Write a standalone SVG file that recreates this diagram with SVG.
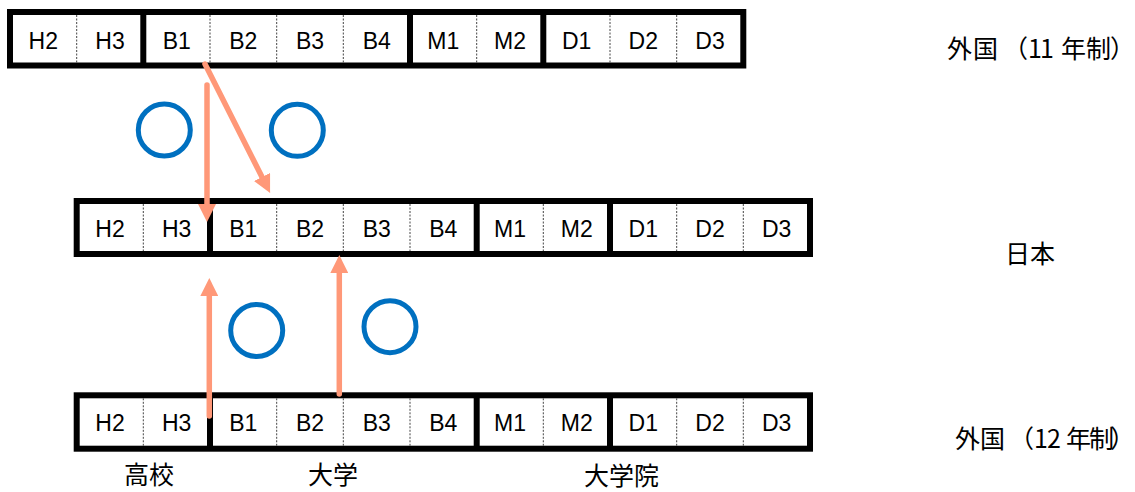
<svg xmlns="http://www.w3.org/2000/svg" width="1135" height="492" viewBox="0 0 1135 492">
<style>
.frame{fill:#fff;stroke:#000;stroke-width:6}
.thick{stroke:#000;stroke-width:6}
.dash{stroke:#444;stroke-width:1;stroke-dasharray:2 1.5}
.cell{font-family:"Liberation Sans",Arial,sans-serif;font-size:23px;fill:#000;text-anchor:middle}
.lbl{font-family:"Noto Sans CJK JP","Noto Sans",sans-serif;font-size:25px;fill:#000;text-spacing-trim:space-all}
.ok{fill:none;stroke:#0070C0;stroke-width:5}
.arr{stroke:#FF9878;stroke-width:5.5;stroke-linecap:round;fill:none;marker-end:url(#ah)}
</style>
<defs>
<marker id="ah" markerUnits="userSpaceOnUse" viewBox="0 0 18 18" markerWidth="18" markerHeight="18" refX="0" refY="9" orient="auto">
<path d="M0,0 L18,9 L0,18 Z" fill="#FF9878"/>
</marker>
</defs>

<g id="row-foreign11">
<rect class="frame" x="10" y="12" width="733.3" height="53.5"/>
<line class="thick" x1="143.3" y1="12" x2="143.3" y2="65.5"/>
<line class="thick" x1="410" y1="12" x2="410" y2="65.5"/>
<line class="thick" x1="543.3" y1="12" x2="543.3" y2="65.5"/>
<line class="dash" x1="76.7" y1="15" x2="76.7" y2="62.5"/>
<line class="dash" x1="210" y1="15" x2="210" y2="62.5"/>
<line class="dash" x1="276.7" y1="15" x2="276.7" y2="62.5"/>
<line class="dash" x1="343.3" y1="15" x2="343.3" y2="62.5"/>
<line class="dash" x1="476.7" y1="15" x2="476.7" y2="62.5"/>
<line class="dash" x1="610" y1="15" x2="610" y2="62.5"/>
<line class="dash" x1="676.7" y1="15" x2="676.7" y2="62.5"/>
<text class="cell" x="43.3" y="48.5">H2</text>
<text class="cell" x="110" y="48.5">H3</text>
<text class="cell" x="176.7" y="48.5">B1</text>
<text class="cell" x="243.3" y="48.5">B2</text>
<text class="cell" x="310" y="48.5">B3</text>
<text class="cell" x="376.7" y="48.5">B4</text>
<text class="cell" x="443.3" y="48.5">M1</text>
<text class="cell" x="510" y="48.5">M2</text>
<text class="cell" x="576.7" y="48.5">D1</text>
<text class="cell" x="643.3" y="48.5">D2</text>
<text class="cell" x="710" y="48.5">D3</text>
<text class="lbl" x="947 973 1003 1028 1040 1052 1061 1086 1110" y="58">外国（11 年制）</text>
</g>

<g id="row-japan">
<rect class="frame" x="76.7" y="201" width="733.3" height="53"/>
<line class="thick" x1="210" y1="201" x2="210" y2="254"/>
<line class="thick" x1="476.7" y1="201" x2="476.7" y2="254"/>
<line class="thick" x1="610" y1="201" x2="610" y2="254"/>
<line class="dash" x1="143.3" y1="204" x2="143.3" y2="251"/>
<line class="dash" x1="276.7" y1="204" x2="276.7" y2="251"/>
<line class="dash" x1="343.3" y1="204" x2="343.3" y2="251"/>
<line class="dash" x1="410" y1="204" x2="410" y2="251"/>
<line class="dash" x1="543.3" y1="204" x2="543.3" y2="251"/>
<line class="dash" x1="676.7" y1="204" x2="676.7" y2="251"/>
<line class="dash" x1="743.3" y1="204" x2="743.3" y2="251"/>
<text class="cell" x="110" y="237">H2</text>
<text class="cell" x="176.7" y="237">H3</text>
<text class="cell" x="243.3" y="237">B1</text>
<text class="cell" x="310" y="237">B2</text>
<text class="cell" x="376.7" y="237">B3</text>
<text class="cell" x="443.3" y="237">B4</text>
<text class="cell" x="510" y="237">M1</text>
<text class="cell" x="576.7" y="237">M2</text>
<text class="cell" x="643.3" y="237">D1</text>
<text class="cell" x="710" y="237">D2</text>
<text class="cell" x="776.7" y="237">D3</text>
<text class="lbl" x="1005" y="263">日本</text>
</g>

<g id="row-foreign12">
<rect class="frame" x="76.7" y="395.3" width="733.3" height="53.4"/>
<line class="thick" x1="210" y1="395.3" x2="210" y2="448.7"/>
<line class="thick" x1="476.7" y1="395.3" x2="476.7" y2="448.7"/>
<line class="thick" x1="610" y1="395.3" x2="610" y2="448.7"/>
<line class="dash" x1="143.3" y1="398.3" x2="143.3" y2="445.7"/>
<line class="dash" x1="276.7" y1="398.3" x2="276.7" y2="445.7"/>
<line class="dash" x1="343.3" y1="398.3" x2="343.3" y2="445.7"/>
<line class="dash" x1="410" y1="398.3" x2="410" y2="445.7"/>
<line class="dash" x1="543.3" y1="398.3" x2="543.3" y2="445.7"/>
<line class="dash" x1="676.7" y1="398.3" x2="676.7" y2="445.7"/>
<line class="dash" x1="743.3" y1="398.3" x2="743.3" y2="445.7"/>
<text class="cell" x="110" y="431">H2</text>
<text class="cell" x="176.7" y="431">H3</text>
<text class="cell" x="243.3" y="431">B1</text>
<text class="cell" x="310" y="431">B2</text>
<text class="cell" x="376.7" y="431">B3</text>
<text class="cell" x="443.3" y="431">B4</text>
<text class="cell" x="510" y="431">M1</text>
<text class="cell" x="576.7" y="431">M2</text>
<text class="cell" x="643.3" y="431">D1</text>
<text class="cell" x="710" y="431">D2</text>
<text class="cell" x="776.7" y="431">D3</text>
<text class="lbl" x="955 980 1009 1034 1047 1060 1066 1089 1110" y="448">外国（12 年制）</text>
</g>

<g id="category-labels">
<text class="lbl" x="124" y="484">高校</text>
<text class="lbl" x="308" y="484">大学</text>
<text class="lbl" x="584" y="485">大学院</text>
</g>

<g id="marks">
<circle class="ok" cx="164.3" cy="130" r="26"/>
<circle class="ok" cx="297.3" cy="130.3" r="26"/>
<circle class="ok" cx="256.7" cy="330.5" r="26"/>
<circle class="ok" cx="390" cy="326.7" r="26"/>
</g>

<g id="connectors">
<line class="arr" x1="207" y1="85" x2="207" y2="204"/>
<line class="arr" x1="205" y1="64" x2="262" y2="177"/>
<line class="arr" x1="209.3" y1="416" x2="209.3" y2="296"/>
<line class="arr" x1="339.3" y1="394" x2="339.3" y2="273"/>
</g>
</svg>
